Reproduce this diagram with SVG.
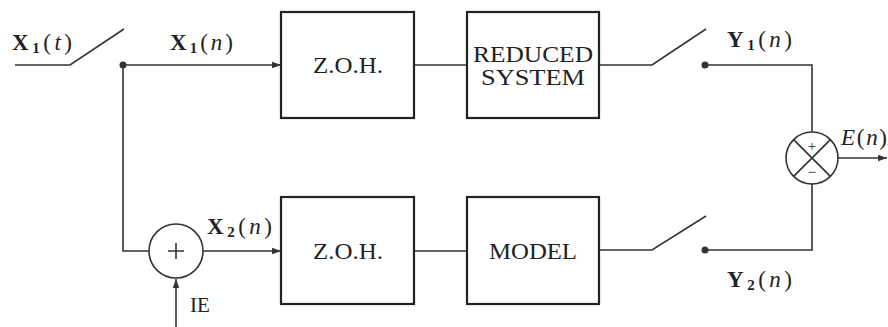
<svg xmlns="http://www.w3.org/2000/svg" width="888" height="327" viewBox="0 0 888 327">
<style>
.box{fill:#fff;stroke:#222;stroke-width:2.2}
.ln{fill:none;stroke:#333;stroke-width:1.6}
.t{font-family:"Liberation Serif","DejaVu Serif",serif;fill:#222}
.bt{font-size:23px;text-anchor:middle}
.lb{font-size:23px}
.sub{font-size:15px;font-weight:bold}
</style>
<defs>
<marker id="ar" markerWidth="10" markerHeight="8" refX="9" refY="4" orient="auto" markerUnits="userSpaceOnUse">
<path d="M0,0.8 L9,4 L0,7.2 Z" fill="#333"/>
</marker>
</defs>
<rect width="888" height="327" fill="#fff"/>
<g id="connectors">
<path class="ln" d="M15,65 H70 L124,29"/>
<path class="ln" d="M123,65 H281" marker-end="url(#ar)"/>
<path class="ln" d="M123,65 V251 H149"/>
<path class="ln" d="M203,251 H281" marker-end="url(#ar)"/>
<path class="ln" d="M176,327 V279" marker-end="url(#ar)"/>
<path class="ln" d="M414,65 H467"/>
<path class="ln" d="M414,251 H467"/>
<path class="ln" d="M599,65 H652 L706,29"/>
<path class="ln" d="M599,250 H652 L706,216"/>
<path class="ln" d="M705,65 H812 V132"/>
<path class="ln" d="M705,250 H812 V184"/>
<path class="ln" d="M838,158 H887" marker-end="url(#ar)"/>
<circle cx="123" cy="65" r="3.5" fill="#333"/>
<circle cx="705" cy="65" r="3.5" fill="#333"/>
<circle cx="705" cy="250" r="3.5" fill="#333"/>
</g>
<g id="zoh1">
<rect class="box" x="281" y="12" width="133" height="106"/>
<text class="t bt" x="348" y="73" textLength="70" lengthAdjust="spacingAndGlyphs">Z.O.H.</text>
</g>
<g id="reduced">
<rect class="box" x="467" y="12" width="132" height="106"/>
<text class="t bt" x="533" y="62" textLength="120" lengthAdjust="spacingAndGlyphs">REDUCED</text>
<text class="t bt" x="533" y="85" textLength="104" lengthAdjust="spacingAndGlyphs">SYSTEM</text>
</g>
<g id="zoh2">
<rect class="box" x="281" y="197" width="133" height="107"/>
<text class="t bt" x="348" y="259" textLength="70" lengthAdjust="spacingAndGlyphs">Z.O.H.</text>
</g>
<g id="model">
<rect class="box" x="467" y="197" width="132" height="107"/>
<text class="t bt" x="533" y="259" textLength="88" lengthAdjust="spacingAndGlyphs">MODEL</text>
</g>
<g id="sum1">
<circle cx="176" cy="251" r="27" fill="#fff" stroke="#333" stroke-width="1.6"/>
<path class="ln" d="M168,251 H184 M176,243 V259" stroke-width="1.4"/>
</g>
<g id="sum2">
<circle cx="812" cy="158" r="26" fill="#fff" stroke="#333" stroke-width="1.6"/>
<path class="ln" d="M793.6,139.6 L830.4,176.4 M830.4,139.6 L793.6,176.4"/>
<text class="t" x="812" y="151" font-size="15" text-anchor="middle">+</text>
<text class="t" x="812" y="177" font-size="15" text-anchor="middle">−</text>
</g>
<g id="labels">
<text class="t lb" x="12" y="50" textLength="60"><tspan font-weight="bold">X</tspan><tspan class="sub" dy="3">1</tspan><tspan dy="-3">(</tspan><tspan font-style="italic">t</tspan>)</text>
<text class="t lb" x="170" y="50" textLength="63"><tspan font-weight="bold">X</tspan><tspan class="sub" dy="3">1</tspan><tspan dy="-3">(</tspan><tspan font-style="italic">n</tspan>)</text>
<text class="t lb" x="207" y="234" textLength="65"><tspan font-weight="bold">X</tspan><tspan class="sub" dy="3">2</tspan><tspan dy="-3">(</tspan><tspan font-style="italic">n</tspan>)</text>
<text class="t lb" x="727" y="47" textLength="65"><tspan font-weight="bold">Y</tspan><tspan class="sub" dy="3">1</tspan><tspan dy="-3">(</tspan><tspan font-style="italic">n</tspan>)</text>
<text class="t lb" x="727" y="287" textLength="65"><tspan font-weight="bold">Y</tspan><tspan class="sub" dy="3">2</tspan><tspan dy="-3">(</tspan><tspan font-style="italic">n</tspan>)</text>
<text class="t lb" x="841" y="145" textLength="46"><tspan font-style="italic">E</tspan>(<tspan font-style="italic">n</tspan>)</text>
<text class="t" x="190" y="312" font-size="21">IE</text>
</g>
</svg>
